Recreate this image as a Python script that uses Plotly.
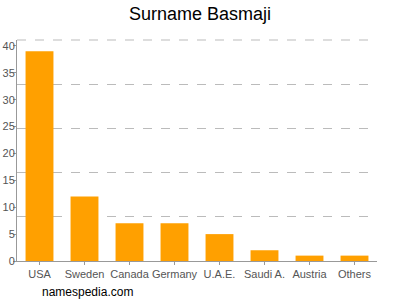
import plotly.graph_objects as go

countries = ["USA", "Sweden", "Canada", "Germany", "U.A.E.", "Saudi A.", "Austria", "Others"]
counts = [39, 12, 7, 7, 5, 2, 1, 1]
y_ticks = [0, 5, 10, 15, 20, 25, 30, 35, 40]

ymax = 41.1

fig = go.Figure()
fig.add_trace(go.Bar(x=countries, y=counts, marker_color="#ffa000", marker_line_width=0))
fig.add_trace(go.Scatter(x=countries, y=[None]*len(countries), yaxis="y2", showlegend=False, hoverinfo="skip"))

fig.update_layout(
    width=400, height=300,
    margin=dict(l=17, r=23, t=40, b=39),
    paper_bgcolor="white", plot_bgcolor="white",
    showlegend=False,
    bargap=0.38,
    title=dict(text="Surname Basmaji", x=0.5, xanchor="center", y=0.953, yanchor="middle",
               font=dict(family="Liberation Sans, Arial, sans-serif", size=18, color="#000")),
    font=dict(family="Liberation Sans, Arial, sans-serif", size=11, color="#555"),
    xaxis=dict(showline=True, linecolor="#999", linewidth=1, ticks="outside", ticklen=3,
               tickcolor="#999", showgrid=False, tickangle=0, automargin=False,
               tickfont=dict(size=11, color="#555")),
    yaxis=dict(range=[0, ymax], tickvals=y_ticks, showline=True, linecolor="#999", linewidth=1,
               ticks="outside", ticklen=3, tickcolor="#999", showgrid=False, zeroline=False,
               automargin=False, ticklabelstandoff=-4, tickfont=dict(size=11, color="#555")),
    yaxis2=dict(range=[0, ymax], overlaying="y", side="right", tick0=0, dtick=ymax/5,
                showgrid=True, gridcolor="#bbb", griddash="dash", gridwidth=1, automargin=False,
                showticklabels=False, zeroline=False, showline=False),
)
fig.add_shape(type="line", xref="paper", yref="paper", x0=0, x1=1, y0=1, y1=1,
              line=dict(color="#bbb", width=1, dash="dash"), layer="below")
fig.add_annotation(text="namespedia.com", xref="paper", yref="paper", x=(40-17)/360, y=-(292-261)/221,
                   xanchor="left", yanchor="middle", showarrow=False,
                   font=dict(family="Liberation Sans, Arial, sans-serif", size=12, color="#000"))
fig.write_html("out.html")
